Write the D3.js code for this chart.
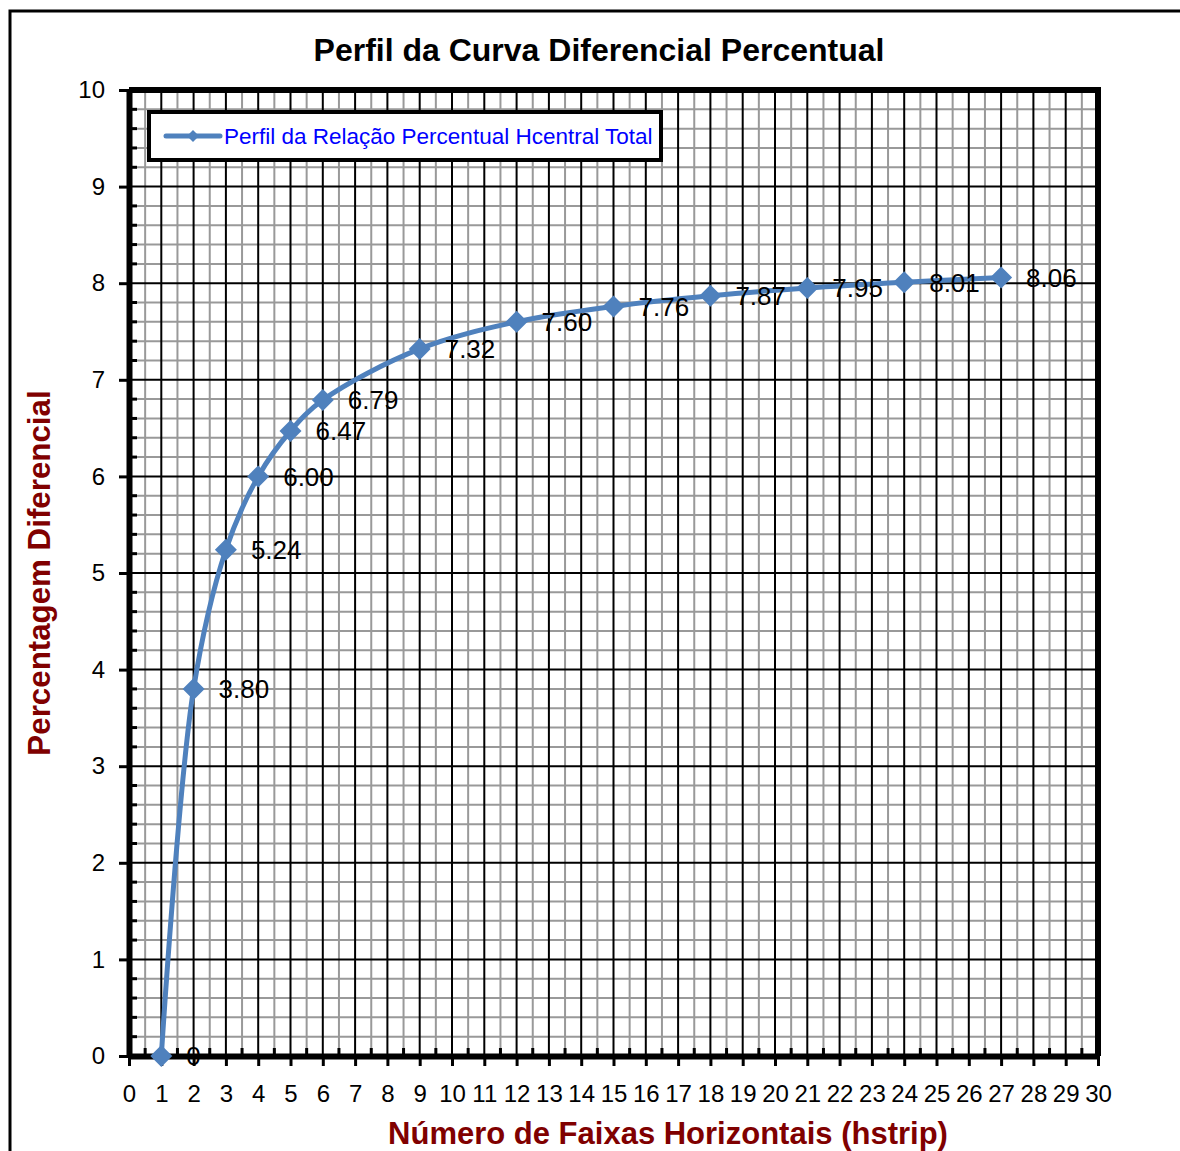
<!DOCTYPE html>
<html>
<head>
<meta charset="utf-8">
<script src="https://cdn.jsdelivr.net/npm/d3@7"></script>
<style>
  body { margin: 0; background: #fff; }
  text { font-family: "Liberation Sans", Arial, sans-serif; }
</style>
</head>
<body>
<div id="chart"></div>
<script>
// chart data
const faixas = [1, 2, 3, 4, 5, 6, 9, 12, 15, 18, 21, 24, 27];
const percentuais = [0, 3.80, 5.24, 6.00, 6.47, 6.79, 7.32, 7.60, 7.76, 7.87, 7.95, 8.01, 8.06];
const rotulos = ['0', '3.80', '5.24', '6.00', '6.47', '6.79', '7.32', '7.60', '7.76', '7.87', '7.95', '8.01', '8.06'];
const xTicks = d3.range(0, 31, 1);
const yTicks = d3.range(0, 11, 1);
const titulo = 'Perfil da Curva Diferencial Percentual';
const tituloX = 'Número de Faixas Horizontais (hstrip)';
const tituloY = 'Percentagem Diferencial';
const legenda = 'Perfil da Relação Percentual Hcentral Total';

const W = 1180, H = 1151;
const margin = { top: 90, right: 82, bottom: 95, left: 129 };
const lineColor = '#4F81BD';
const darkRed = '#800000';

const svg = d3.select('#chart').append('svg')
  .attr('width', W)
  .attr('height', H);

svg.append('rect').attr('width', W).attr('height', H).attr('fill', '#fff');

// outer chart border (runs past the picture edge)
svg.append('rect')
  .attr('x', 10).attr('y', 11)
  .attr('width', W + 20).attr('height', H + 20)
  .attr('fill', 'none').attr('stroke', '#000').attr('stroke-width', 3);

const x = d3.scaleLinear().domain([0, 30]).range([margin.left, W - margin.right]);
const y = d3.scaleLinear().domain([0, 10]).range([H - margin.bottom, margin.top]);

const g = svg.append('g');

// minor grid
g.selectAll('.vminor').data(d3.range(0.5, 30, 1)).enter().append('line')
  .attr('x1', d => x(d)).attr('x2', d => x(d))
  .attr('y1', y(0)).attr('y2', y(10))
  .attr('stroke', '#999').attr('stroke-width', 2);
g.selectAll('.hminor').data(d3.range(0, 50).filter(i => i % 5 !== 0).map(i => i / 5)).enter().append('line')
  .attr('x1', x(0)).attr('x2', x(30))
  .attr('y1', d => y(d)).attr('y2', d => y(d))
  .attr('stroke', '#999').attr('stroke-width', 2);

// major grid
g.selectAll('.vmajor').data(xTicks).enter().append('line')
  .attr('x1', d => x(d)).attr('x2', d => x(d))
  .attr('y1', y(0)).attr('y2', y(10))
  .attr('stroke', '#000').attr('stroke-width', 2);
g.selectAll('.hmajor').data(yTicks).enter().append('line')
  .attr('x1', x(0)).attr('x2', x(30))
  .attr('y1', d => y(d)).attr('y2', d => y(d))
  .attr('stroke', '#000').attr('stroke-width', 2);

// plot frame top/right
svg.append('path')
  .attr('d', `M${x(0)},${y(10)}H${x(30)}V${y(0)}`)
  .attr('fill', 'none').attr('stroke', '#000').attr('stroke-width', 6);

// minor inside ticks
svg.append('g').selectAll('line').data(d3.range(0, 50).filter(i => i % 5 !== 0).map(i => i / 5)).enter().append('line')
  .attr('x1', x(0)).attr('x2', x(0) + 8)
  .attr('y1', d => y(d)).attr('y2', d => y(d))
  .attr('stroke', '#000').attr('stroke-width', 3);
svg.append('g').selectAll('line').data(d3.range(0.5, 30, 1)).enter().append('line')
  .attr('x1', d => x(d)).attr('x2', d => x(d))
  .attr('y1', y(0)).attr('y2', y(0) - 8)
  .attr('stroke', '#000').attr('stroke-width', 3);

// axes
const yAxis = svg.append('g')
  .attr('transform', `translate(${x(0)},0)`)
  .call(d3.axisLeft(y).tickValues(yTicks).tickSize(10).tickPadding(14).tickSizeOuter(0));
const xAxis = svg.append('g')
  .attr('transform', `translate(0,${y(0)})`)
  .call(d3.axisBottom(x).tickValues(xTicks).tickSize(10).tickPadding(19).tickSizeOuter(0));

[yAxis, xAxis].forEach(a => {
  a.select('.domain').attr('stroke', '#000').attr('stroke-width', 6);
  a.selectAll('.tick line').attr('stroke', '#000').attr('stroke-width', 3);
  a.selectAll('.tick text')
    .attr('fill', '#000')
    .style('font-family', '"Liberation Sans", Arial, sans-serif')
    .style('font-size', '24px');
});

// data line
const line = d3.line()
  .x((d, i) => x(faixas[i]))
  .y(d => y(d))
  .curve(d3.curveCatmullRom.alpha(0.5));

svg.append('path')
  .datum(percentuais)
  .attr('d', line)
  .attr('fill', 'none')
  .attr('stroke', lineColor)
  .attr('stroke-width', 5);

const diamond = r => `M0,${-r}L${r},0L0,${r}L${-r},0Z`;

svg.selectAll('.marker').data(percentuais).enter().append('path')
  .attr('transform', (d, i) => `translate(${x(faixas[i])},${y(d)})`)
  .attr('d', diamond(11))
  .attr('fill', lineColor);

// data labels
svg.selectAll('.rotulo').data(percentuais).enter().append('text')
  .attr('x', (d, i) => x(faixas[i]) + 25)
  .attr('y', d => y(d))
  .attr('dy', '0.36em')
  .style('font-size', '26px')
  .attr('fill', '#000')
  .text((d, i) => rotulos[i]);

// legend
const lg = svg.append('g').attr('transform', 'translate(149,112)');
lg.append('rect')
  .attr('width', 512).attr('height', 48)
  .attr('fill', '#fff').attr('stroke', '#000').attr('stroke-width', 4);
lg.append('line')
  .attr('x1', 17).attr('x2', 71).attr('y1', 24).attr('y2', 24)
  .attr('stroke', lineColor).attr('stroke-width', 5).attr('stroke-linecap', 'round');
lg.append('path')
  .attr('transform', 'translate(44,24)')
  .attr('d', diamond(6))
  .attr('fill', lineColor);
lg.append('text')
  .attr('x', 75).attr('y', 24).attr('dy', '0.36em')
  .style('font-size', '22.5px')
  .attr('fill', '#0000FF')
  .text(legenda);

// titles
svg.append('text')
  .attr('x', 599).attr('y', 49).attr('dy', '0.36em')
  .attr('text-anchor', 'middle')
  .style('font-size', '32px').style('font-weight', 'bold')
  .attr('fill', '#000')
  .text(titulo);

svg.append('text')
  .attr('x', 668).attr('y', 1133).attr('dy', '0.36em')
  .attr('text-anchor', 'middle')
  .style('font-size', '31px').style('font-weight', 'bold')
  .attr('fill', darkRed)
  .text(tituloX);

svg.append('text')
  .attr('transform', 'translate(39,573) rotate(-90)')
  .attr('dy', '0.36em')
  .attr('text-anchor', 'middle')
  .style('font-size', '31.3px').style('font-weight', 'bold')
  .attr('fill', darkRed)
  .text(tituloY);
</script>
</body>
</html>
